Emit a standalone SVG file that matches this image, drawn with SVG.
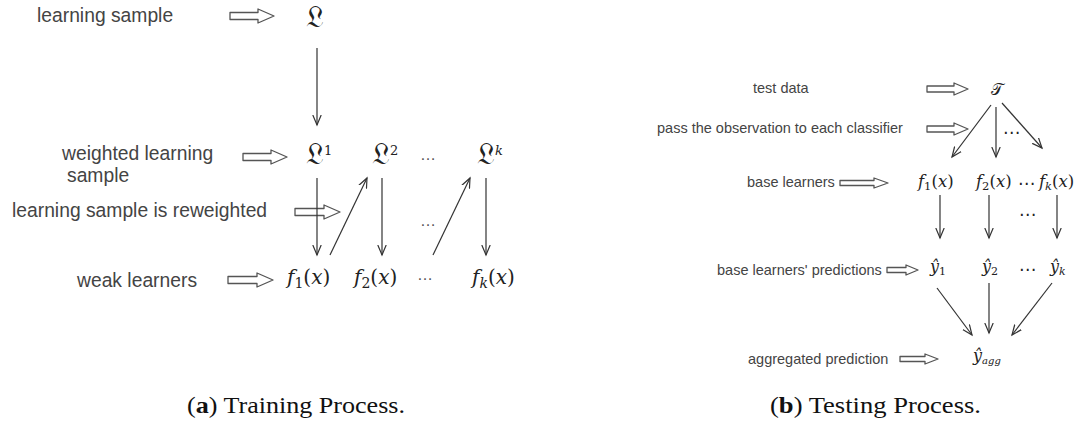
<svg xmlns="http://www.w3.org/2000/svg" width="1084" height="430" viewBox="0 0 1084 430">
<style>
.lbl{font-family:"Liberation Sans",Arial,sans-serif;fill:#444}
.l{font-size:19.3px}
.r{font-size:14.5px}
.m{font-family:"DejaVu Serif",serif;fill:#222}
.fr{font-size:30px}
.it{font-style:italic}
.ba{fill:#fff;stroke:#555;stroke-width:1.3;stroke-linejoin:round}
.ln{stroke:#333;stroke-width:1.2;fill:none}
.dots{font-family:"Liberation Sans",Arial,sans-serif;fill:#555;font-size:16px}
.bd{font-family:"DejaVu Sans",sans-serif;fill:#222;font-size:17px}
.cap{font-family:"Liberation Serif","Times New Roman",serif;font-size:23px;fill:#111}
</style>
<defs>
<marker id="ah" markerWidth="12" markerHeight="10" refX="10" refY="5" orient="auto" markerUnits="userSpaceOnUse">
<path d="M0,0.8 L10,5 L0,9.2" fill="none" stroke="#333" stroke-width="1.2"/>
</marker>
</defs>
<rect width="1084" height="430" fill="#fff"/>

<g id="training">
<g id="lbl-learning-sample"><text class="lbl l" x="37" y="22">learning sample</text></g>
<g id="lbl-weighted"><text class="lbl l" x="62" y="160">weighted learning</text><text class="lbl l" x="67" y="182">sample</text></g>
<g id="lbl-reweighted"><text class="lbl l" x="12" y="217">learning sample is reweighted</text></g>
<g id="lbl-weak"><text class="lbl l" x="77" y="287">weak learners</text></g>

<g id="n-L"><text class="m fr" x="306" y="27">𝔏</text></g>
<g id="n-L1"><text class="m" x="306" y="164"><tspan class="fr">𝔏</tspan><tspan font-size="13" dy="-9">1</tspan></text></g>
<g id="n-L2"><text class="m" x="372" y="164"><tspan class="fr">𝔏</tspan><tspan font-size="13" dy="-9">2</tspan></text></g>
<g id="n-Lk"><text class="m" x="477" y="164"><tspan class="fr">𝔏</tspan><tspan font-size="13" dy="-9" class="it">k</tspan></text></g>
<text class="dots" x="420" y="160">…</text>
<text class="dots" x="420" y="226">…</text>
<text class="dots" x="417" y="280">…</text>

<g id="n-f1"><text class="m" x="287" y="284" font-size="20"><tspan class="it">f</tspan><tspan font-size="14" dy="4">1</tspan><tspan dy="-4">(</tspan><tspan class="it">x</tspan>)</text></g>
<g id="n-f2"><text class="m" x="354" y="284" font-size="20"><tspan class="it">f</tspan><tspan font-size="14" dy="4">2</tspan><tspan dy="-4">(</tspan><tspan class="it">x</tspan>)</text></g>
<g id="n-fk"><text class="m" x="472" y="284" font-size="20"><tspan class="it">f</tspan><tspan font-size="14" dy="4" class="it">k</tspan><tspan dy="-4">(</tspan><tspan class="it">x</tspan>)</text></g>
</g>

<g id="testing">
<g id="lbl-test"><text class="lbl r" x="753" y="93">test data</text></g>
<g id="lbl-pass"><text class="lbl r" x="657" y="133">pass the observation to each classifier</text></g>
<g id="lbl-base"><text class="lbl r" x="747" y="187">base learners</text></g>
<g id="lbl-pred"><text class="lbl r" x="717" y="275">base learners' predictions</text></g>
<g id="lbl-agg"><text class="lbl r" x="748" y="364">aggregated prediction</text></g>

<g id="n-T"><text class="m" x="991" y="95" font-size="16">𝒯</text></g>
<g id="n-tf1"><text class="m" x="918" y="187" font-size="16.5"><tspan class="it">f</tspan><tspan font-size="11.5" dy="3">1</tspan><tspan dy="-3">(</tspan><tspan class="it">x</tspan>)</text></g>
<g id="n-tf2"><text class="m" x="976" y="187" font-size="16.5"><tspan class="it">f</tspan><tspan font-size="11.5" dy="3">2</tspan><tspan dy="-3">(</tspan><tspan class="it">x</tspan>)</text></g>
<g id="n-tfk"><text class="m" x="1039" y="187" font-size="16.5"><tspan class="it">f</tspan><tspan font-size="11.5" dy="3" class="it">k</tspan><tspan dy="-3">(</tspan><tspan class="it">x</tspan>)</text></g>
<text class="bd" x="1018" y="189">⋯</text>
<text class="bd" x="1003" y="138">⋯</text>
<text class="bd" x="1019" y="220">⋯</text>

<g id="n-y1"><text class="m" x="930" y="272" font-size="16"><tspan class="it">ŷ</tspan><tspan font-size="11" dy="3">1</tspan></text></g>
<g id="n-y2"><text class="m" x="982" y="272" font-size="16"><tspan class="it">ŷ</tspan><tspan font-size="11" dy="3">2</tspan></text></g>
<g id="n-yk"><text class="m" x="1050" y="272" font-size="16"><tspan class="it">ŷ</tspan><tspan font-size="11" dy="3" class="it">k</tspan></text></g>
<text class="bd" x="1019" y="275">⋯</text>
<g id="n-yagg"><text class="m" x="973" y="361" font-size="16"><tspan class="it">ŷ</tspan><tspan font-size="10" dy="3" class="it">agg</tspan></text></g>
</g>

<g id="block-arrows">
<path class="ba" d="M230,12.5 L258,12.5 L258,9 L274,16 L258,23 L258,19.5 L230,19.5 Z"/>
<path class="ba" d="M243,153.5 L271,153.5 L271,150 L287,157 L271,164 L271,160.5 L243,160.5 Z"/>
<path class="ba" d="M295,208.5 L324,208.5 L324,205 L340,212 L324,219 L324,215.5 L295,215.5 Z"/>
<path class="ba" d="M228,276.5 L257,276.5 L257,273 L273,280 L257,287 L257,283.5 L228,283.5 Z"/>
<path class="ba" d="M927,86 L954,86 L954,83 L968,89 L954,95 L954,92 L927,92 Z"/>
<path class="ba" d="M927,126 L954,126 L954,123 L968,129 L954,135 L954,132 L927,132 Z"/>
<path class="ba" d="M840,180.5 L874,180.5 L874,178 L888,183 L874,188 L874,185.5 L840,185.5 Z"/>
<path class="ba" d="M887,267.5 L906,267.5 L906,265 L918,270 L906,275 L906,272.5 L887,272.5 Z"/>
<path class="ba" d="M900,356.5 L925,356.5 L925,354 L938,359 L925,364 L925,361.5 L900,361.5 Z"/>
</g>

<g id="connectors">
<line class="ln" x1="317" y1="48" x2="317" y2="125" marker-end="url(#ah)"/>
<line class="ln" x1="317" y1="178" x2="317" y2="255" marker-end="url(#ah)"/>
<line class="ln" x1="330" y1="255" x2="367" y2="178" marker-end="url(#ah)"/>
<line class="ln" x1="382" y1="178" x2="382" y2="255" marker-end="url(#ah)"/>
<line class="ln" x1="433" y1="255" x2="470" y2="178" marker-end="url(#ah)"/>
<line class="ln" x1="486" y1="178" x2="486" y2="255" marker-end="url(#ah)"/>

<line class="ln" x1="991" y1="105" x2="952" y2="157" marker-end="url(#ah)"/>
<line class="ln" x1="996" y1="107" x2="996" y2="157" marker-end="url(#ah)"/>
<line class="ln" x1="1002" y1="103" x2="1042" y2="148" marker-end="url(#ah)"/>
<line class="ln" x1="940" y1="195" x2="940" y2="238" marker-end="url(#ah)"/>
<line class="ln" x1="989" y1="195" x2="989" y2="238" marker-end="url(#ah)"/>
<line class="ln" x1="1057" y1="195" x2="1057" y2="238" marker-end="url(#ah)"/>
<line class="ln" x1="937" y1="288" x2="972" y2="335" marker-end="url(#ah)"/>
<line class="ln" x1="989" y1="283" x2="989" y2="333" marker-end="url(#ah)"/>
<line class="ln" x1="1052" y1="283" x2="1012" y2="335" marker-end="url(#ah)"/>
</g>

<g id="captions">
<text class="cap" x="187" y="413" textLength="218" lengthAdjust="spacingAndGlyphs">(<tspan font-weight="bold">a</tspan>) Training Process.</text>
<text class="cap" x="770" y="413" textLength="211" lengthAdjust="spacingAndGlyphs">(<tspan font-weight="bold">b</tspan>) Testing Process.</text>
</g>
</svg>
